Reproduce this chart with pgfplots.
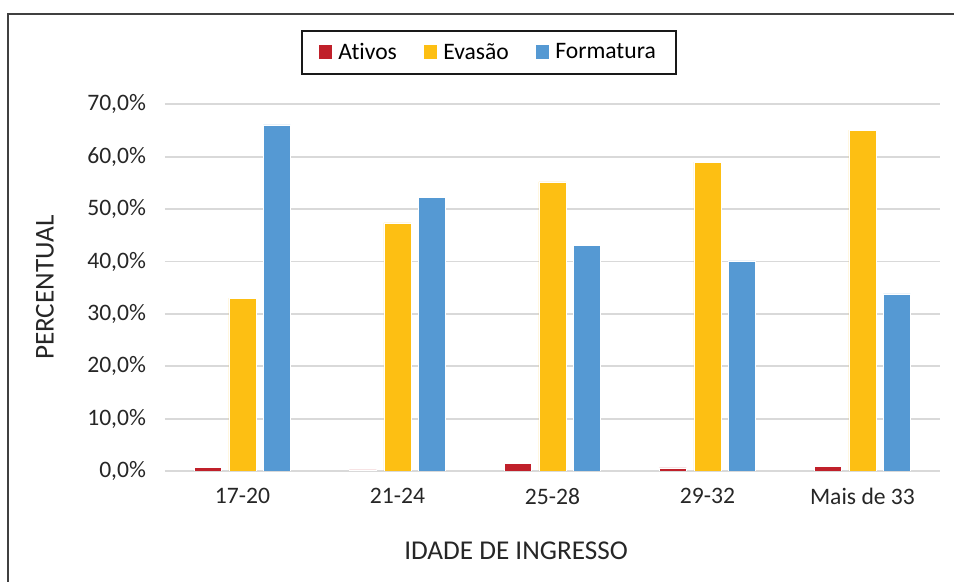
\documentclass[border=0pt]{standalone}
\usepackage{pgfplots}
\pgfplotsset{compat=1.18}
\usepackage{fontspec}
\setmainfont{Carlito}[Ligatures=NoCommon]

\definecolor{cAtivos}{HTML}{C0202A}
\definecolor{cEvasao}{HTML}{FDBF13}
\definecolor{cForm}{HTML}{5599D3}
\definecolor{cGrid}{HTML}{D9D9D9}

\begin{document}
\begin{tikzpicture}
\begin{axis}[
  scale only axis, width=387.5pt, height=183.3pt,
  ybar=3.75pt, bar width=13.5pt,
  xmin=-0.5, xmax=4.5, ymin=0, ymax=70,
  xtick=data, xticklabels={17-20,21-24,25-28,29-32,Mais de 33},
  ytick={0,10,...,70},
  yticklabels={{0,0\%},{10,0\%},{20,0\%},{30,0\%},{40,0\%},{50,0\%},{60,0\%},{70,0\%}},
  major tick length=0pt,
  tick label style={font=\fontsize{11.8}{13}\selectfont, text=black!85},
  yticklabel style={anchor=east, xshift=-6pt},
  xticklabel style={yshift=-5pt},
  axis y line*=left, axis x line*=bottom,
  y axis line style={draw=none},
  x axis line style={cGrid, line width=1pt, -},
  ymajorgrids, grid style={cGrid, line width=0.9pt},
  xlabel={IDADE DE INGRESSO}, ylabel={PERCENTUAL},
  label style={font=\fontsize{13.6}{15}\selectfont, text=black!85},
  xlabel style={at={(axis description cs:0.453,-0.218)}, anchor=center},
  ylabel style={at={(axis description cs:-0.155,0.5)}, anchor=center},
  legend columns=3,
  legend style={at={(axis description cs:0.418,1.141)}, anchor=center,
    draw=black!90, line width=1pt, font=\fontsize{11.8}{13}\selectfont,
    inner xsep=8pt, inner ysep=4pt,
    /tikz/every odd column/.append style={column sep=1pt},
    /tikz/every even column/.append style={column sep=11pt}},
  legend image code/.code={\fill[#1] (0pt,-3.4pt) rectangle (7pt,4.1pt);},
]
\addplot[fill=cAtivos, draw=white, line width=0.2pt] coordinates {(0,0.7) (1,0.2) (2,1.5) (3,0.6) (4,0.95)};
\addlegendentry{Ativos}
\addplot[fill=cEvasao, draw=white, line width=0.2pt] coordinates {(0,33.0) (1,47.4) (2,55.2) (3,59.0) (4,65.1)};
\addlegendentry{Evasão}
\addplot[fill=cForm, draw=white, line width=0.2pt] coordinates {(0,66.1) (1,52.2) (2,43.1) (3,40.1) (4,33.8)};
\addlegendentry{Formatura}
\end{axis}
\draw[black!75, line width=1pt] (-78.5pt,-80pt) -- (-78.5pt,228.4pt) -- (420pt,228.4pt);
\pgfresetboundingbox
\useasboundingbox (-82.5pt,-55.5pt) rectangle (394.5pt,235.5pt);
\end{tikzpicture}
\end{document}
